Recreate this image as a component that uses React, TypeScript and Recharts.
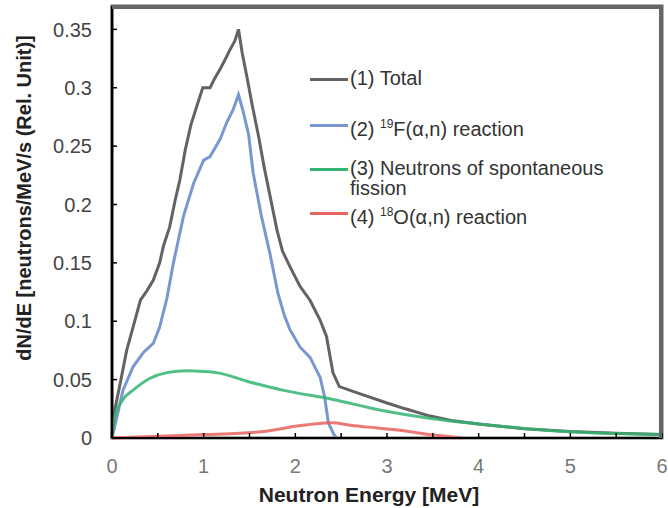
import { LineChart, Line, XAxis, YAxis, Legend, CartesianGrid, ReferenceArea } from "recharts";

// Total spectrum (1)
const totalEnergy = [
  0, 0.03, 0.09, 0.16, 0.23, 0.31, 0.38, 0.45, 0.52, 0.56, 0.63, 0.69, 0.74, 0.8, 0.86, 0.92, 0.99,
  1.07, 1.12, 1.18, 1.24, 1.29, 1.34, 1.38, 1.42, 1.47, 1.53, 1.6, 1.66, 1.73, 1.8, 1.86, 1.94,
  2.05, 2.16, 2.27, 2.34, 2.41, 2.48, 2.7, 3.0, 3.2, 3.46, 3.7, 4.0, 4.5, 5.0, 5.5, 6.0,
];
const totalValue = [
  0, 0.024, 0.047, 0.075, 0.095, 0.118, 0.126, 0.135, 0.15, 0.164, 0.181, 0.204, 0.221, 0.247, 0.268,
  0.283, 0.3, 0.3, 0.308, 0.316, 0.325, 0.333, 0.34, 0.35, 0.33, 0.31, 0.285, 0.258, 0.232, 0.205,
  0.178, 0.16, 0.147, 0.13, 0.118, 0.101, 0.087, 0.056, 0.044, 0.038, 0.03, 0.025, 0.019, 0.015,
  0.012, 0.008, 0.0055, 0.004, 0.003,
];

// 19F(a,n) reaction (2)
const fluorineEnergy = [
  0, 0.03, 0.12, 0.23, 0.34, 0.45, 0.52, 0.6, 0.67, 0.78, 0.89, 1.0, 1.07, 1.18, 1.25, 1.32, 1.38,
  1.43, 1.49, 1.54, 1.63, 1.72, 1.81, 1.88, 1.94, 2.05, 2.16, 2.27, 2.32, 2.36, 2.42, 2.45,
];
const fluorineValue = [
  0, 0.01, 0.041, 0.061, 0.073, 0.081, 0.095, 0.12, 0.15, 0.19, 0.218, 0.238, 0.241, 0.256, 0.27,
  0.281, 0.294, 0.28, 0.26, 0.227, 0.19, 0.159, 0.124, 0.105, 0.093, 0.078, 0.069, 0.052, 0.035,
  0.013, 0.003, 0,
];

// spontaneous fission neutrons (3)
const fissionEnergy = [0, 0.03, 0.12, 0.23, 0.41, 0.6, 0.81, 1.0, 1.14, 1.5, 1.86, 2.41, 2.92, 3.46, 4.0, 4.55, 5.1, 6.0];
const fissionValue = [0, 0.018, 0.033, 0.041, 0.051, 0.056, 0.0575, 0.057, 0.056, 0.048, 0.041, 0.033, 0.024, 0.017, 0.012, 0.0077, 0.005, 0.003];

// 18O(a,n) reaction (4)
const oxygenEnergy = [0, 0.5, 1.0, 1.4, 1.7, 2.0, 2.2, 2.4, 2.6, 2.9, 3.2, 3.46, 3.65, 3.82];
const oxygenValue = [0, 0.0015, 0.003, 0.004, 0.006, 0.01, 0.012, 0.013, 0.011, 0.0085, 0.006, 0.003, 0.0015, 0];

const xTicks = [0, 0.5, 1, 1.5, 2, 2.5, 3, 3.5, 4, 4.5, 5, 5.5, 6];
const yTicks = [0, 0.05, 0.1, 0.15, 0.2, 0.25, 0.3, 0.35];
const yTickLabels = ["0", "0.05", "0.1", "0.15", "0.2", "0.25", "0.3", "0.35"];

const toPoints = (xs: number[], ys: number[]) => xs.map((e, i) => ({ e, v: ys[i] }));

const COLORS = {
  total: "#636363",
  fluorine: "#7898cf",
  fission: "#34b472",
  oxygen: "#e8625e",
};

const FONT = "Arial, 'Liberation Sans', sans-serif";
const WIDTH = 668;
const HEIGHT = 508;
const MARGIN = { top: 6, right: 6, bottom: 0, left: 0 };
const Y_AXIS_W = 112;
const X_AXIS_H = 70;
const PLOT_LEFT = MARGIN.left + Y_AXIS_W;
const PLOT_RIGHT = WIDTH - MARGIN.right;
const PLOT_BOTTOM = HEIGHT - MARGIN.bottom - X_AXIS_H;

const XTick = ({ x, y, payload }: any) => (
  <g>
    <line x1={x} x2={x} y1={y} y2={y - 5} stroke="#000" strokeWidth={1.5} />
    {Number.isInteger(payload.value) && (
      <text x={x} y={y + 35} textAnchor="middle" fontSize={20} fill="#777" fontFamily={FONT}>
        {payload.value}
      </text>
    )}
  </g>
);

const YTick = ({ x, y, payload }: any) => (
  <g>
    <line x1={x} x2={x + 5} y1={y} y2={y} stroke="#000" strokeWidth={1.5} />
    <text x={x - 20} y={y} dy="0.36em" textAnchor="end" fontSize={20} fill="#444" fontFamily={FONT}>
      {yTickLabels[yTicks.indexOf(payload.value)]}
    </text>
  </g>
);

const legendRows = [
  { color: COLORS.total, top: 68, label: <>(1) Total</> },
  { color: COLORS.fluorine, top: 114, label: <>(2) <sup style={{ fontSize: 12 }}>19</sup>F(α,n) reaction</> },
  { color: COLORS.fission, top: 158, label: <>(3) Neutrons of spontaneous<br />fission</> },
  { color: COLORS.oxygen, top: 202, label: <>(4) <sup style={{ fontSize: 12 }}>18</sup>O(α,n) reaction</> },
];

const renderLegend = () => (
  <div style={{ position: "relative", fontFamily: FONT, fontSize: 20, color: "#333" }}>
    {legendRows.map((r, i) => (
      <div key={i} style={{ position: "absolute", top: r.top, left: 0, display: "flex", alignItems: "flex-start", whiteSpace: "nowrap" }}>
        <span style={{ width: 38, height: 3, background: r.color, marginTop: 10, marginRight: 2 }} />
        <span style={{ lineHeight: "20px" }}>{r.label}</span>
      </div>
    ))}
  </div>
);

export default function App() {
  return (
    <div style={{ position: "absolute", left: 0, top: 0, width: WIDTH, height: HEIGHT, background: "#fff" }}>
      <LineChart width={WIDTH} height={HEIGHT} margin={MARGIN}>
        {/* top and right edges of the plot box */}
        <CartesianGrid
          stroke="#666"
          strokeWidth={3}
          horizontalPoints={[MARGIN.top + 1.5]}
          verticalPoints={[PLOT_RIGHT - 1.5]}
        />
        <ReferenceArea
          x1={0}
          x2={6}
          y1={0}
          y2={0.37}
          fill="none"
          fillOpacity={0}
          stroke="#666"
          strokeWidth={3}
          ifOverflow="visible"
        />
        <XAxis
          dataKey="e"
          type="number"
          domain={[0, 6]}
          ticks={xTicks}
          interval={0}
          tickSize={0}
          tickMargin={0}
          tickLine={false}
          tick={<XTick />}
          axisLine={{ stroke: "#000", strokeWidth: 2 }}
          height={X_AXIS_H}
          label={{
            content: () => (
              <text x={369} y={502} textAnchor="middle" fontSize={21} fontWeight="bold" fill="#222" fontFamily={FONT}>
                Neutron Energy [MeV]
              </text>
            ),
          }}
        />
        <YAxis
          type="number"
          domain={[0, 0.37]}
          ticks={yTicks}
          interval={0}
          tickSize={0}
          tickMargin={0}
          tickLine={false}
          tick={<YTick />}
          axisLine={{ stroke: "#000", strokeWidth: 2.5 }}
          width={Y_AXIS_W}
          label={{
            content: () => (
              <text
                x={24}
                y={198}
                transform="rotate(-90 24 198)"
                dy="0.36em"
                textAnchor="middle"
                fontSize={20}
                fontWeight="bold"
                fill="#222"
                fontFamily={FONT}
              >
                dN/dE [neutrons/MeV/s (Rel. Unit)]
              </text>
            ),
          }}
        />
        <Line data={toPoints(totalEnergy, totalValue)} dataKey="v" type="linear" stroke={COLORS.total} strokeWidth={3} dot={false} isAnimationActive={false} />
        <Line data={toPoints(fluorineEnergy, fluorineValue)} dataKey="v" type="linear" stroke={COLORS.fluorine} strokeWidth={3} dot={false} isAnimationActive={false} />
        <Line data={toPoints(oxygenEnergy, oxygenValue)} dataKey="v" type="monotone" stroke={COLORS.oxygen} strokeWidth={3} strokeOpacity={0.85} dot={false} isAnimationActive={false} />
        <Line data={toPoints(fissionEnergy, fissionValue)} dataKey="v" type="monotone" stroke={COLORS.fission} strokeWidth={3} strokeOpacity={0.85} dot={false} isAnimationActive={false} />
        <Legend
          layout="vertical"
          align="center"
          verticalAlign="middle"
          content={renderLegend}
          wrapperStyle={{ left: 310, top: 0, width: 340, height: 0 }}
        />
      </LineChart>
      <svg
        width={WIDTH}
        height={HEIGHT}
        style={{ position: "absolute", left: 0, top: 0, zIndex: 5, pointerEvents: "none" }}
      >
        <path
          d={`M${PLOT_LEFT},${MARGIN.top + 1.5} H${PLOT_RIGHT - 1.5} V${PLOT_BOTTOM}`}
          fill="none"
          stroke="#666"
          strokeWidth={3}
        />
      </svg>
    </div>
  );
}
